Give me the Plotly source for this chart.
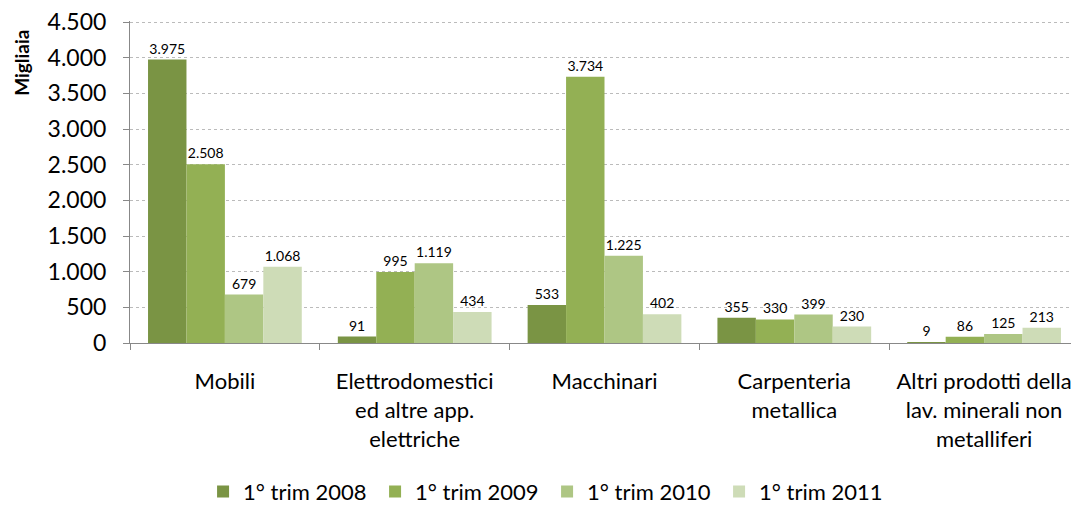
import plotly.graph_objects as go

categories = ["Mobili", "Elettrodomestici<br>ed altre app.<br>elettriche", "Macchinari",
              "Carpenteria<br>metallica", "Altri prodotti della<br>lav. minerali non<br>metalliferi"]
series_names = ["1° trim 2008", "1° trim 2009", "1° trim 2010", "1° trim 2011"]
v2008 = [3975, 91, 533, 355, 9]
v2009 = [2508, 995, 3734, 330, 86]
v2010 = [679, 1119, 1225, 399, 125]
v2011 = [1068, 434, 402, 230, 213]
colors = ["#7A9444", "#93B054", "#AEC684", "#CEDCB7"]
yticks = [0, 500, 1000, 1500, 2000, 2500, 3000, 3500, 4000, 4500]

def fmt(v):
    return f"{v:,}".replace(",", ".")

FONT = "Lato, 'Liberation Sans', sans-serif"
YRANGE = [0, 4515]
fig = go.Figure()
for name, vals, c in zip(series_names, [v2008, v2009, v2010, v2011], colors):
    fig.add_trace(go.Bar(
        x=categories, y=vals, name=name, marker=dict(color=c, line=dict(width=0)),
        text=[fmt(v) for v in vals], textposition="outside",
        textfont=dict(size=14, color="#000000", family=FONT), cliponaxis=False,
    ))
# empty helper trace so the overlay axis (short grey tick marks) is drawn
fig.add_trace(go.Scatter(x=[], y=[], yaxis="y2", showlegend=False, hoverinfo="skip"))

# page body has an 8px margin, so the figure is 8px smaller and shifted
fig.update_layout(
    width=1071, height=500, barmode="group", bargap=0.19, bargroupgap=0,
    plot_bgcolor="white", paper_bgcolor="white",
    margin=dict(l=122, r=0, t=13, b=165, autoexpand=False),
    font=dict(family=FONT, size=22, color="#000000"),
    separators=",.",
    legend=dict(orientation="h", x=0.077, xanchor="left", y=-0.462, yanchor="middle",
                font=dict(size=22), itemwidth=30, traceorder="normal",
                entrywidth=127, entrywidthmode="pixels"),
    yaxis2=dict(overlaying="y", side="left", range=YRANGE, tickvals=yticks,
                showticklabels=False, ticks="outside", ticklen=6, tickcolor="#888888",
                showgrid=False, zeroline=False, showline=False, automargin=False),
)
fig.update_xaxes(showline=True, linecolor="#888888", linewidth=1, ticks="outside",
                 tickson="boundaries", ticklen=6, tickcolor="#888888",
                 tickfont=dict(size=22), ticklabelstandoff=19, automargin=False)
fig.update_yaxes(selector=dict(overlaying=None), range=YRANGE, tickvals=yticks,
                 ticktext=[fmt(t) for t in yticks],
                 showline=True, linecolor="#888888", linewidth=1, ticks="outside",
                 ticklen=18, tickcolor="rgba(0,0,0,0)", tickfont=dict(size=23),
                 ticklabeloverflow="allow",
                 showgrid=True, gridcolor="#BBBBBB", griddash="dot", gridwidth=1,
                 zeroline=False, automargin=False)
fig.add_annotation(text="<b>Migliaia</b>", xref="paper", yref="paper", x=-0.1138, y=0.87,
                   textangle=-90, showarrow=False, font=dict(size=19), xanchor="center", yanchor="middle")
fig.write_html("out.html")
